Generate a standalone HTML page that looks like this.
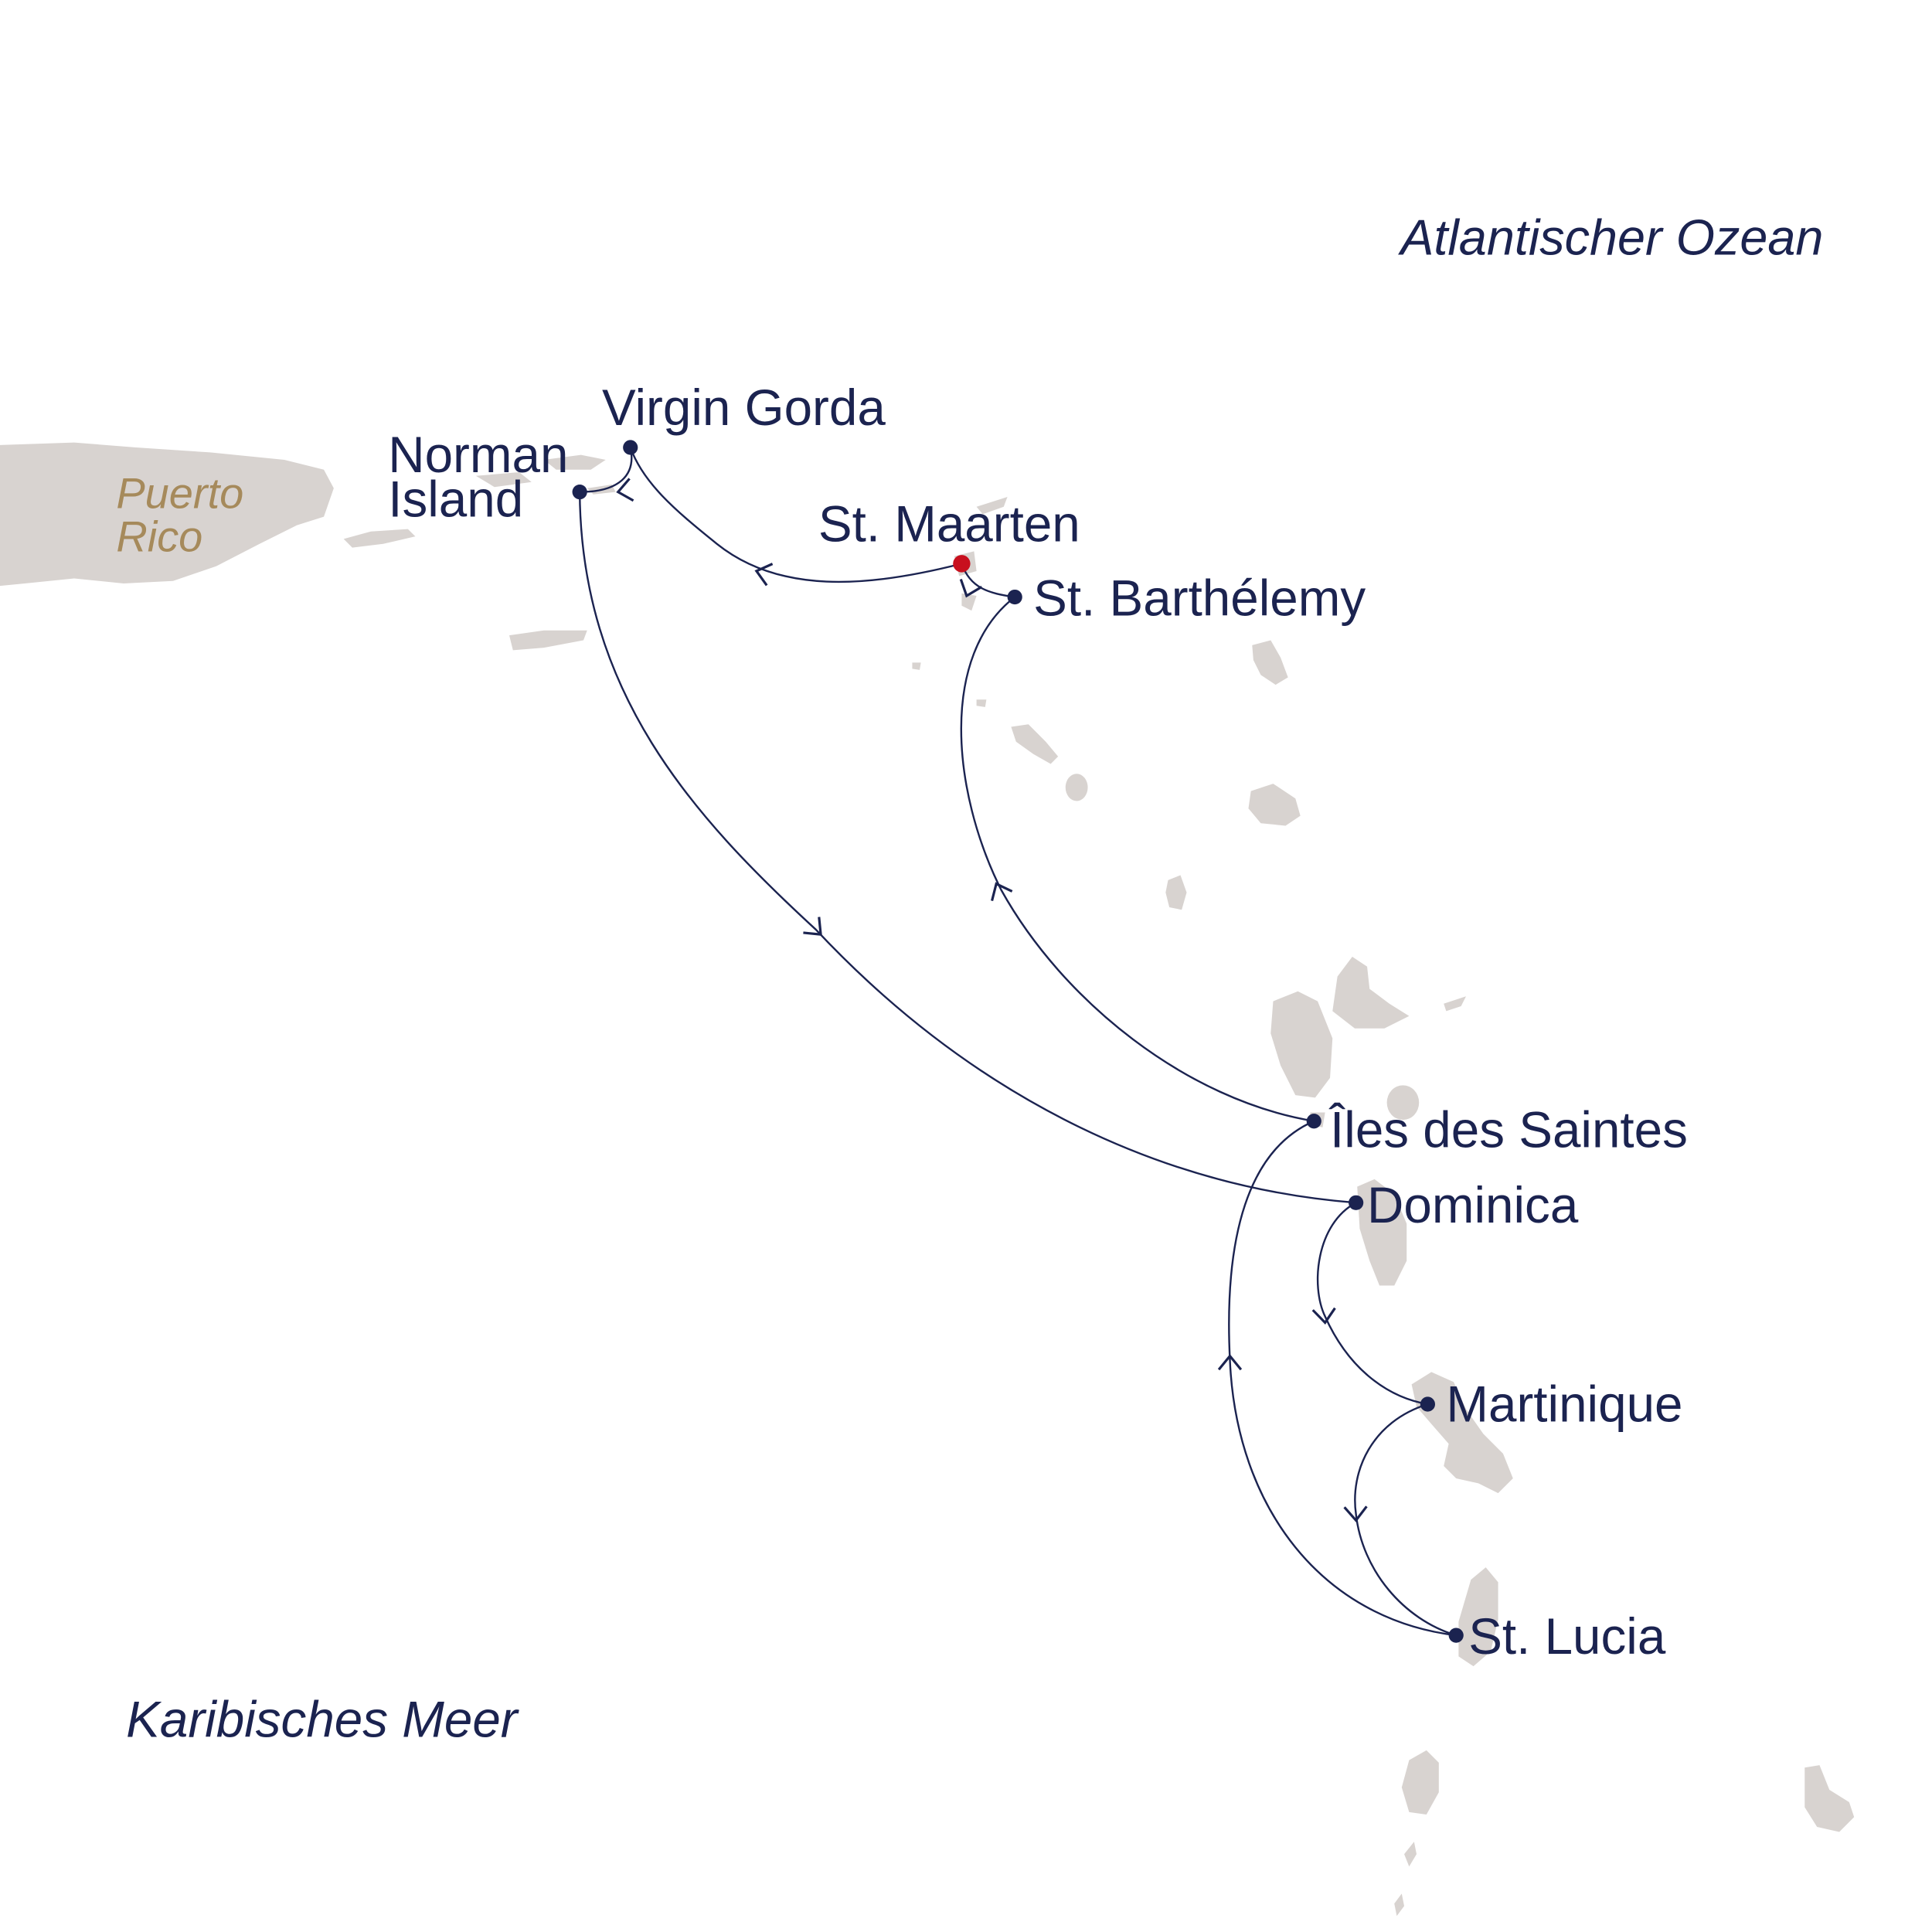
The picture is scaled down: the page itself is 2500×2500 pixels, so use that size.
<!DOCTYPE html>
<html><head><meta charset="utf-8">
<style>
html,body{margin:0;padding:0;background:#fff;}
svg{display:block;}
text{font-family:"Liberation Sans",sans-serif;}
</style></head>
<body>
<svg width="2500" height="2500" viewBox="0 0 1563 1563" xmlns="http://www.w3.org/2000/svg">
<rect width="1563" height="1563" fill="#fff"/>
<g fill="#d8d3d0">
<path d="M0,360 L60,358 L110,362 L170,366 L230,372 L262,380 L270,395 L262,418 L240,425 L210,440 L175,458 L140,470 L100,472 L60,468 L20,472 L0,474 Z"/>
<path d="M278,436 L300,430 L330,428 L336,434 L310,440 L285,443 Z"/>
<path d="M412,514 L440,510 L475,510 L472,518 L440,524 L415,526 Z"/>
<path d="M385,385 L420,382 L430,390 L400,394 Z"/>
<path d="M440,372 L470,368 L490,372 L478,380 L450,380 Z"/>
<path d="M475,395 L495,392 L498,398 L480,400 Z"/>
<path d="M790,410 L815,402 L812,410 L795,416 Z"/>
<path d="M772,450 L788,446 L790,462 L776,466 Z"/>
<path d="M778,480 L790,482 L786,494 L778,490 Z"/>
<path d="M1013,522 L1028,518 L1036,532 L1042,548 L1032,554 L1020,546 L1014,534 Z"/>
<path d="M818,588 L832,586 L846,600 L856,612 L850,618 L836,610 L822,600 Z"/>
<ellipse cx="871" cy="637" rx="9" ry="11"/>
<path d="M738,536 L745,536 L744,542 L738,541 Z"/>
<path d="M790,566 L798,566 L797,572 L790,571 Z"/>
<path d="M1012,640 L1030,634 L1048,646 L1052,660 L1040,668 L1020,666 L1010,654 Z"/>
<path d="M945,712 L955,708 L960,722 L956,736 L946,734 L943,722 Z"/>
<path d="M1030,810 L1050,802 L1066,810 L1078,840 L1076,872 L1064,888 L1048,886 L1036,862 L1028,836 Z"/>
<path d="M1078,818 L1082,790 L1094,774 L1106,782 L1108,800 L1124,812 L1140,822 L1120,832 L1096,832 Z"/>
<path d="M1168,812 L1186,806 L1182,814 L1170,818 Z"/>
<ellipse cx="1135" cy="892" rx="13" ry="14"/>
<path d="M1060,900 L1072,900 L1070,912 L1060,910 Z"/>
<path d="M1098,960 L1112,954 L1128,966 L1138,990 L1138,1020 L1128,1040 L1116,1040 L1108,1020 L1100,994 Z"/>
<path d="M1142,1120 L1158,1110 L1176,1118 L1186,1140 L1200,1160 L1216,1176 L1224,1196 L1212,1208 L1196,1200 L1178,1196 L1168,1186 L1172,1168 L1158,1152 L1146,1138 Z"/>
<path d="M1190,1278 L1202,1268 L1212,1280 L1212,1310 L1206,1336 L1192,1348 L1180,1340 L1180,1312 Z"/>
<path d="M1140,1424 L1154,1416 L1164,1426 L1164,1450 L1154,1468 L1140,1466 L1134,1446 Z"/>
<path d="M1136,1500 L1144,1490 L1146,1500 L1140,1510 Z"/>
<path d="M1128,1540 L1134,1532 L1136,1542 L1130,1550 Z"/>
<path d="M1460,1430 L1472,1428 L1480,1448 L1496,1458 L1500,1470 L1488,1482 L1470,1478 L1460,1462 Z"/>
</g>

<g fill="none" stroke="#1b2350" stroke-width="1.5">
<path d="M778,456 C700,476 630,480 580,440 C545,412 520,390 510,362"/>
<path d="M510,362 C515,385 500,398 469,398"/>
<path d="M469,398 C470,560 560,660 660,752 C780,880 930,960 1097,973"/>
<path d="M1097,973 C1065,990 1060,1040 1072,1065 C1090,1105 1120,1130 1155,1136"/>
<path d="M1155,1136 C1110,1150 1092,1190 1097,1225 C1102,1270 1135,1310 1178,1323"/>
<path d="M1178,1323 C1070,1310 1000,1220 995,1100 C990,1000 1010,930 1063,907"/>
<path d="M1063,907 C960,890 860,810 810,720 C770,640 760,530 821,483"/>
<path d="M821,483 C800,480 785,476 778,456"/>
</g>

<g fill="none" stroke="#1b2350" stroke-width="2" stroke-linejoin="miter">
<path transform="translate(612,462) rotate(195)" d="M-11,-9 L0,0 L-11,9"/>
<path transform="translate(500,398) rotate(170)" d="M-11,-9 L0,0 L-11,9"/>
<path transform="translate(664,756) rotate(45)" d="M-11,-9 L0,0 L-11,9"/>
<path transform="translate(1072,1070) rotate(85)" d="M-11,-9 L0,0 L-11,9"/>
<path transform="translate(1097,1230) rotate(88)" d="M-11,-9 L0,0 L-11,9"/>
<path transform="translate(995,1097) rotate(-90)" d="M-11,-9 L0,0 L-11,9"/>
<path transform="translate(806,715) rotate(-115)" d="M-11,-9 L0,0 L-11,9"/>
<path transform="translate(782,482) rotate(110)" d="M-11,-9 L0,0 L-11,9"/>
</g>
<g fill="#1b2350">
<circle cx="510" cy="362" r="6"/>
<circle cx="469" cy="398" r="6"/>
<circle cx="821" cy="483" r="6"/>
<circle cx="1063" cy="907" r="6"/>
<circle cx="1097" cy="973" r="6"/>
<circle cx="1155" cy="1136" r="6"/>
<circle cx="1178" cy="1323" r="6"/>
</g>
<circle cx="778" cy="456" r="7" fill="#c8101e"/>

<g fill="#1b2350" font-size="41">
<text x="487" y="344">Virgin Gorda</text>
<text x="314" y="382">Norman</text>
<text x="314" y="418">Island</text>
<text x="662" y="438">St. Maarten</text>
<text x="836" y="498">St. Barthélemy</text>
<text x="1076" y="928">Îles des Saintes</text>
<text x="1106" y="989">Dominica</text>
<text x="1170" y="1150">Martinique</text>
<text x="1188" y="1338">St. Lucia</text>
<text x="1133" y="206" font-style="italic" font-size="40.5">Atlantischer Ozean</text>
<text x="102" y="1405" font-style="italic" font-size="41">Karibisches Meer</text>
</g>
<g fill="#a68a5b" font-style="italic" font-size="35">
<text x="94" y="411">Puerto</text>
<text x="94" y="446">Rico</text>
</g>
</svg>
</body></html>
